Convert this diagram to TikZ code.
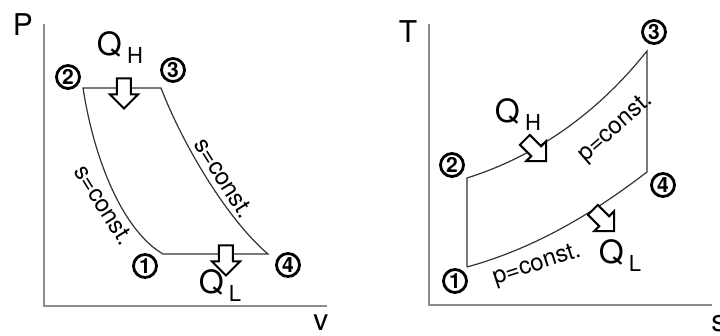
\documentclass[tikz,border=0pt]{standalone}
\usepackage{fontspec}
\setmainfont{TeX Gyre Heros}
\usetikzlibrary{shapes.arrows}

\newcommand{\heatlbl}[1]{Q\,\raisebox{-4pt}{\fontsize{11}{11}\selectfont #1}}

\begin{document}
\begin{tikzpicture}[
    x=0.5pt, y=-0.5pt,
    axis/.style={draw=black!45, line width=1pt},
    cycleline/.style={draw=black!80, line width=0.6pt},
    state/.style={circle, draw=black, line width=1.4pt, inner sep=0pt,
        minimum size=11.5pt, font=\bfseries\fontsize{10.5}{10.5}\selectfont},
    heat/.style={font=\fontsize{16}{16}\selectfont, inner sep=0pt},
    axlabel/.style={font=\fontsize{15}{15}\selectfont, inner sep=0pt},
    proc/.style={font=\fontsize{12}{12}\selectfont, inner sep=0pt},
    heatarrow/.style={
        single arrow, draw=black, fill=white, line width=1pt,
        text width=0pt, text height=0pt, text depth=0pt,
        inner xsep=0pt, inner ysep=3pt,
        minimum height=15pt, minimum width=6pt,
        single arrow head extend=3.5pt
    }
]
  \useasboundingbox (0,0) rectangle (720,336);

  % P-v diagram
  \coordinate (pv_top) at (44,24);
  \coordinate (pv_o) at (44,306);
  \coordinate (pv_end) at (327,306);
  \draw[axis] (pv_top) -- (pv_o) -- (pv_end);
  \node[axlabel] (lbl_p) at (23,25) {P};
  \node[axlabel] (lbl_v) at (321,323) {v};

  \coordinate (a1) at (163,254);
  \coordinate (a2) at (83,88);
  \coordinate (a3) at (161,88);
  \coordinate (a4) at (268,254);
  \draw[cycleline] (a1) .. controls (125,232) and (95,165) .. (a2) -- (a3)
      .. controls (185,150) and (230,222) .. (a4) -- cycle;

  \node[state] (pv_s1) at (145,266) {1};
  \node[state] (pv_s2) at (68,77) {2};
  \node[state] (pv_s3) at (173,70) {3};
  \node[state] (pv_s4) at (288,265) {4};

  \node[proc, rotate=-58] (pv_isen_l) at (104,205) {s=const.};
  \node[proc, rotate=-58] (pv_isen_r) at (224,178) {s=const.};

  \node[heatarrow, rotate=-90] (pv_in) at (124,90) {};
  \node[heatarrow, rotate=-90] (pv_out) at (226,257) {};
  \node[heat] (pv_qh) at (120,48) {\heatlbl{H}};
  \node[heat] (pv_ql) at (220,286) {\heatlbl{L}};

  % T-s diagram
  \coordinate (ts_top) at (429,24);
  \coordinate (ts_o) at (429,305);
  \coordinate (ts_end) at (712,305);
  \draw[axis] (ts_top) -- (ts_o) -- (ts_end);
  \node[axlabel] (lbl_t) at (408,32) {T};
  \node[axlabel] (lbl_s) at (719,324) {s};

  \coordinate (b1) at (467,267);
  \coordinate (b2) at (467,178);
  \coordinate (b3) at (647,51);
  \coordinate (b4) at (647,172);
  \draw[cycleline] (b1) -- (b2) .. controls (540,155) and (600,110) .. (b3)
      -- (b4) .. controls (600,208) and (540,247) .. (b1);

  \node[state] (ts_s1) at (455,281) {1};
  \node[state] (ts_s2) at (452,165) {2};
  \node[state] (ts_s3) at (654,32) {3};
  \node[state] (ts_s4) at (663,185) {4};

  \node[proc, rotate=41] (ts_isob_h) at (616,128) {p=const.};
  \node[proc, rotate=18] (ts_isob_l) at (537,265) {p=const.};

  \node[heatarrow, rotate=-45] (ts_in) at (533,148) {};
  \node[heatarrow, rotate=-45] (ts_out) at (601,218) {};
  \node[heat] (ts_qh) at (518,115) {\heatlbl{H}};
  \node[heat] (ts_ql) at (620,256) {\heatlbl{L}};

\end{tikzpicture}
\end{document}
